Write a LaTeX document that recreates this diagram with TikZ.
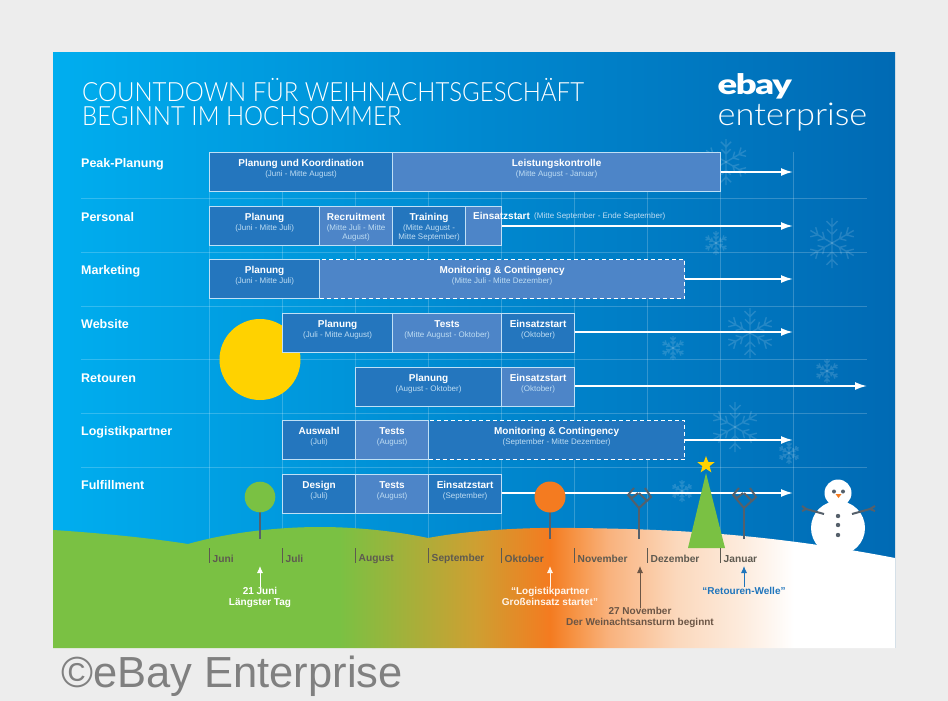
\documentclass[tikz,border=0pt]{standalone}
\usepackage{fontspec}
\setmainfont{Liberation Sans}
\newfontfamily\thinfont[FakeStretch=1.09]{Lato Light}
\newfontfamily\titlefont[FakeStretch=0.906]{Lato Light}
\newfontfamily\logofont[FakeStretch=1.3,LetterSpace=-5]{Lato Black}
\usetikzlibrary{arrows.meta,shapes.geometric}

\definecolor{barDarkFill}{HTML}{2476BE}
\definecolor{barLightFill}{HTML}{4D85C8}
\definecolor{barEdge}{HTML}{BFE0F6}
\definecolor{dateText}{HTML}{BFDDF3}
\definecolor{treeGreen}{HTML}{7AC143}
\definecolor{treeOrange}{HTML}{F47B20}
\definecolor{sunYellow}{HTML}{FFD200}
\definecolor{trunkGrey}{HTML}{55606B}
\definecolor{monthGrey}{HTML}{5E5A50}
\definecolor{rushBrown}{HTML}{6B5545}
\definecolor{returnBlue}{HTML}{1F75BC}
\definecolor{skyLeft}{HTML}{00AEEF}
\definecolor{skyMid}{HTML}{0089D0}
\definecolor{skyRight}{HTML}{006AB4}
\definecolor{groundOlive}{HTML}{CDA032}
\definecolor{groundHot}{HTML}{F69446}
\definecolor{groundWarm}{HTML}{F9B27D}
\definecolor{groundPeach}{HTML}{FBD8BC}
\definecolor{groundPale}{HTML}{FDECDE}

\pgfdeclarehorizontalshading{skyshade}{100bp}{color(0bp)=(skyLeft); color(25bp)=(skyLeft); color(50bp)=(skyMid); color(75bp)=(skyRight); color(100bp)=(skyRight)}
\pgfdeclarehorizontalshading{groundshade}{100bp}{color(0bp)=(treeGreen); color(42bp)=(treeGreen); color(50bp)=(groundOlive); color(54.5bp)=(treeOrange); color(56bp)=(groundHot); color(58bp)=(groundWarm); color(62bp)=(groundPeach); color(66bp)=(groundPale); color(69bp)=(white); color(100bp)=(white)}

\tikzset{
    barbox/.style={anchor=north west, inner sep=0pt, minimum height=39pt, line width=1.2pt, draw=barEdge},
    barDark/.style={barbox, fill=barDarkFill},
    barLight/.style={barbox, fill=barLightFill},
    barDash/.style={barLight, draw=white, dashed, dash pattern=on 4pt off 3pt},
    barDashDark/.style={barDark, draw=white, dashed, dash pattern=on 4pt off 3pt},
    bartext/.style={anchor=north, inner sep=0pt, align=center, text=white, font=\fontsize{10}{11}\selectfont},
    rowlabel/.style={anchor=west, inner sep=0pt, text=white, font=\fontsize{12.5}{14}\selectfont\bfseries},
    monthlabel/.style={anchor=west, inner sep=0pt, text=monthGrey, font=\fontsize{10.2}{11}\selectfont\bfseries},
    notelabel/.style={anchor=north, inner sep=0pt, align=center, font=\fontsize{10}{11}\selectfont\bfseries},
    gridline/.style={white, opacity=0.2, line width=0.7pt},
    runarrow/.style={white, line width=1.8pt, -{Latex[length=12pt,width=8pt]}},
    notearrow/.style={line width=0.9pt, -{Latex[length=7pt,width=6pt]}},
    flake/.pic={
        \foreach \a in {0,60,...,300} {
            \begin{scope}[rotate=\a]
                \draw (0,0)--(0,1) (0,0.65)--(-0.22,0.88) (0,0.65)--(0.22,0.88)
                      (0,0.35)--(-0.2,0.55) (0,0.35)--(0.2,0.55);
            \end{scope}
        }
    },
    baretree/.pic={
        \draw[trunkGrey, line width=2pt] (0,53)--(0,20);
        \draw[trunkGrey, line width=2pt] (0,22)--(-11,9)--(-5,2) (-11,9)--(-7,12)
              (0,22)--(12,11)--(6,2) (-8,13)--(-1,7) (8,15)--(0,7) (12,11)--(8,15);
    }
}

\newcommand{\smalldates}{\fontsize{8}{9}\selectfont\color{dateText}}

\begin{document}
\begin{tikzpicture}[x=1pt,y=-1pt]
    \useasboundingbox (0,0) rectangle (948,701);
    \fill[white!93!black] (0,0) rectangle (948,701);

    % panel and grid
    \shade[shading=skyshade] (53,53) rectangle (895,647);
    \foreach \y in {198,252,306,359,413,467} \draw[gridline] (81,\y)--(867,\y);
    \foreach \x in {209,282,355,428,501,574,647,720,793} \draw[gridline] (\x,152)--(\x,545);

    % snow flakes
    \foreach \x/\y/\r in {726/162/23,832/243/25,716/243/12,750/333/25,673/348/12,827/371/12,735/427/25,789/453/11,682/491/11} {
        \begin{scope}[shift={(\x,\y)}, scale=\r, white, opacity=0.14, line width=1.4pt]
            \pic[transform shape] {flake};
        \end{scope}
    }

    % sun
    \fill[sunYellow] (260,359.5) circle (40.5pt);

    % title and logo
    \node[anchor=west, inner sep=0pt, text=white, align=left, font=\titlefont\fontsize{26.5}{24}\selectfont] (title) at (82,102)
        {COUNTDOWN FÜR WEIHNACHTSGESCHÄFT\\BEGINNT IM HOCHSOMMER};
    \node[anchor=base west, inner sep=0pt, text=white, font=\logofont\fontsize{28}{28}\selectfont] (logoTop) at (717.5,95) {ebay};
    \node[anchor=base west, inner sep=0pt, text=white, font=\thinfont\fontsize{31.5}{32}\selectfont] (logoBottom) at (717.5,125) {enterprise};

    % rows
    \foreach \n/\txt/\y in {peak/Peak-Planung/164.5,staff/Personal/217.5,market/Marketing/271.5,web/Website/324.5,returns/Retouren/378.5,partner/Logistikpartner/432.5,fulfil/Fulfillment/485.5}
        \node[rowlabel] (\n) at (81,\y) {\txt};

    % arrows first, bars go over them
    \coordinate (endA) at (793,172); \coordinate (endB) at (793,226);
    \coordinate (endC) at (793,279); \coordinate (endD) at (793,332);
    \coordinate (endE) at (867,386); \coordinate (endF) at (793,440);
    \coordinate (endG) at (793,493);

    \foreach \n/\kind/\xa/\xb/\yt/\head/\dates in {
        marketB/barDash/319/684/259/Monitoring \& Contingency/(Mitte Juli - Mitte Dezember),
        partnerC/barDashDark/428/684/420/Monitoring \& Contingency/(September - Mitte Dezember),
        peakA/barDark/209/392/152/Planung und Koordination/(Juni - Mitte August),
        peakB/barLight/392/720/152/Leistungskontrolle/(Mitte August - Januar),
        staffA/barDark/209/319/206/Planung/(Juni - Mitte Juli),
        staffB/barLight/319/392/206/Recruitment/(Mitte Juli - Mitte\\[-2pt]\smalldates August),
        staffC/barDark/392/465/206/Training/(Mitte August -\\[-2pt]\smalldates Mitte September),
        marketA/barDark/209/319/259/Planung/(Juni - Mitte Juli),
        webA/barDark/282/392/313/Planung/(Juli - Mitte August),
        webB/barLight/392/501/313/Tests/(Mitte August - Oktober),
        webC/barDark/501/574/313/Einsatzstart/(Oktober),
        returnsA/barDark/355/501/367/Planung/(August - Oktober),
        returnsB/barLight/501/574/367/Einsatzstart/(Oktober),
        partnerA/barDark/282/355/420/Auswahl/(Juli),
        partnerB/barLight/355/428/420/Tests/(August),
        fulfilA/barDark/282/355/474/Design/(Juli),
        fulfilB/barLight/355/428/474/Tests/(August),
        fulfilC/barDark/428/501/474/Einsatzstart/(September)} {
        \node[\kind, minimum width={(\xb-\xa)*1pt}] (\n) at (\xa,\yt) {};
        \node[bartext] (\n text) at ([yshift=-7pt]\n.north) {\textbf{\head}\\[-1pt]\smalldates\dates};
    }

    % this one does not fit its box
    \node[barLight, minimum width=36pt] (staffD) at (465,206) {};
    \node[anchor=west, inner sep=0pt, text=white, font=\fontsize{10}{11}\selectfont\bfseries] (staffDtext) at (473,216) {Einsatzstart};
    \node[anchor=west, inner sep=0pt, font=\smalldates] (staffDdates) at (534,216.5) {(Mitte September - Ende September)};

    \draw[runarrow] (peakB.east|-endA)--(endA);
    \draw[runarrow] (staffD.east|-endB)--(endB);
    \draw[runarrow] (marketB.east|-endC)--(endC);
    \draw[runarrow] (webC.east|-endD)--(endD);
    \draw[runarrow] (returnsB.east|-endE)--(endE);
    \draw[runarrow] (partnerC.east|-endF)--(endF);
    \draw[runarrow] (fulfilC.east|-endG)--(endG);

    % ground
    \shade[shading=groundshade] (53,530) .. controls (100,533) and (150,538) .. (188,544)
        .. controls (230,532) and (280,527) .. (320,527)
        .. controls (360,527) and (400,532) .. (428,538)
        .. controls (470,530) and (530,527) .. (575,528)
        .. controls (660,529) and (760,532) .. (895,558)
        -- (895,648) -- (53,648) -- cycle;

    % trees
    \draw[trunkGrey, line width=1.8pt] (260,500)--(260,539);
    \fill[treeGreen] (260,497) circle (15.3pt);
    \draw[trunkGrey, line width=1.8pt] (550,500)--(550,539);
    \fill[treeOrange] (550,497) circle (15.5pt);
    \pic at (639,486) {baretree};
    \pic at (744,486) {baretree};
    \fill[treeGreen] (706,473)--(725,548)--(688,548)--cycle;
    \node[star, star points=5, star point ratio=2.4, fill=sunYellow, inner sep=0pt, minimum size=18pt] (starTop) at (706,465) {};

    % snowman
    \fill[white] (838,528) circle (27pt);
    \fill[white] (838,493) circle (13.5pt);
    \foreach \p in {834,843} \fill[trunkGrey] (\p,491.5) circle (2pt);
    \fill[treeOrange] (835.5,494)--(841.5,494)--(838.5,498)--cycle;
    \foreach \p in {516,525,535} \fill[trunkGrey] (838,\p) circle (2.2pt);
    \draw[trunkGrey, line width=2pt] (824,514)--(806,509) (806,509)--(802,506) (806,509)--(802,511);
    \draw[trunkGrey, line width=2pt] (852,514)--(870,509) (870,509)--(875,506) (870,509)--(875,511);

    % months
    \foreach \x/\txt in {209/Juni,282/Juli,355/August,428/September,501/Oktober,574/November,647/Dezember,720/Januar} {
        \node[monthlabel] (month\txt) at (\x+3.5,559) {\txt};
        \draw[monthGrey, line width=0.6pt] (\x,548)--(\x,563);
    }

    % notes
    \node[notelabel, text=white] (noteSummer) at (260,587) {21 Juni\\[0.5pt]Längster Tag};
    \node[notelabel, text=white!92!orange] (noteCarrier) at (550,587) {“Logistikpartner\\Großeinsatz startet”};
    \node[notelabel, text=rushBrown] (noteRush) at (640,607.5) {27 November\\Der Weinachtsansturm beginnt};
    \node[notelabel, text=returnBlue] (noteReturn) at (744,587) {“Retouren-Welle”};
    \coordinate (tipSummer) at (260,566); \coordinate (tipCarrier) at (550,566);
    \coordinate (tipRush) at (640,566); \coordinate (tipReturn) at (744,566);
    \draw[notearrow, white] (noteSummer.north)--(tipSummer);
    \draw[notearrow, white!92!orange] (noteCarrier.north)--(tipCarrier);
    \draw[notearrow, rushBrown] (noteRush.north)--(tipRush);
    \draw[notearrow, returnBlue] (noteReturn.north)--(tipReturn);

    % credit
    \node[anchor=west, inner sep=0pt, text=black!50, font=\fontsize{43.5}{44}\selectfont] (credit) at (61,676) {©eBay Enterprise};
\end{tikzpicture}
\end{document}
